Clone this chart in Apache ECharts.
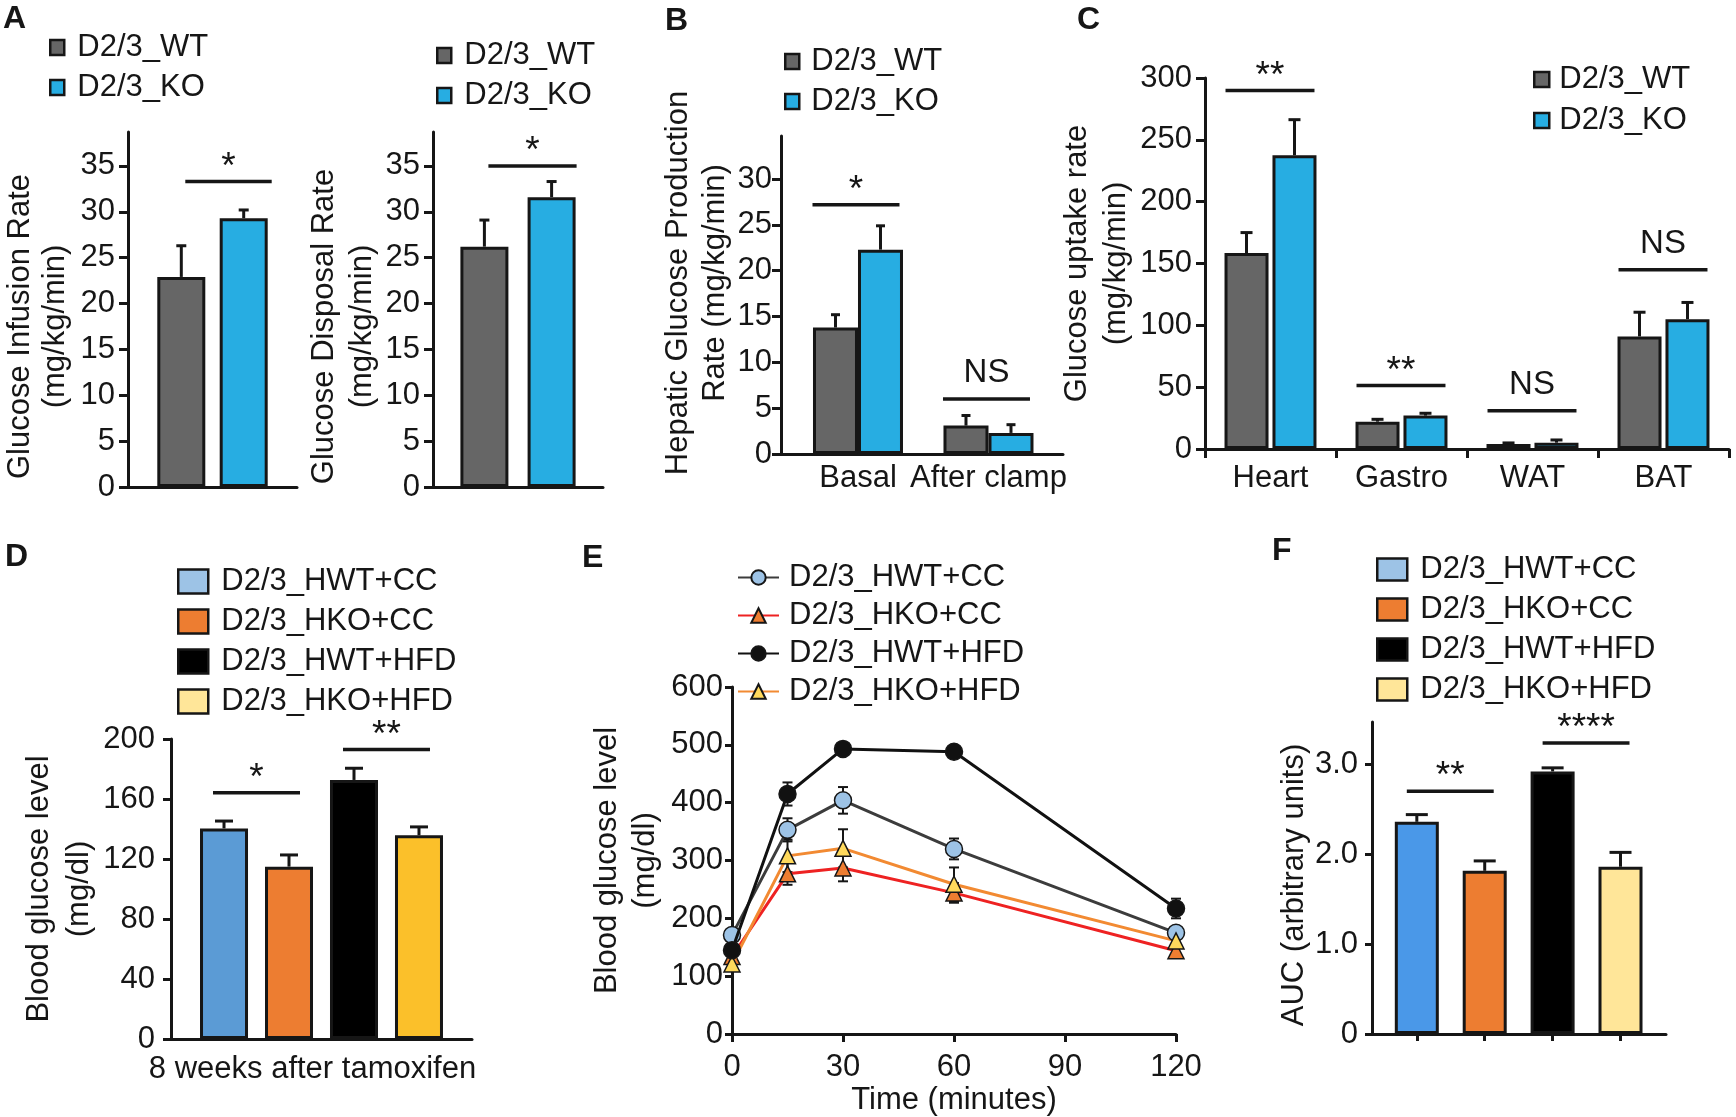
<!DOCTYPE html>
<html><head><meta charset="utf-8">
<script src="https://cdn.jsdelivr.net/npm/echarts@6/dist/echarts.min.js"></script>
<style>
html,body{margin:0;padding:0;background:#fff;width:1736px;height:1117px;overflow:hidden;}
.layer{position:absolute;left:0;top:0;width:1736px;height:1117px;}
</style></head><body>
<script>
// ================= DATA =================
// Panel A
const wtkoNames = ['D2/3_WT', 'D2/3_KO'];
const girMean = [22.9, 29.3];
const girErr = [3.4, 0.9];
const gdrMean = [26.2, 31.6];
const gdrErr = [2.9, 1.7];
const ticksA = [0, 5, 10, 15, 20, 25, 30, 35];
const sigA1 = [{ cat: 0, from: 0, to: 1, y: 33.3, text: '*' }];
const sigA2 = [{ cat: 0, from: 0, to: 1, y: 35.0, text: '*' }];

// Panel B
const hgpCats = ['Basal', 'After clamp'];
const hgpWT = [13.8, 3.1];
const hgpWTErr = [1.4, 1.1];
const hgpKO = [22.3, 2.3];
const hgpKOErr = [2.6, 0.9];
const ticksB = [0, 5, 10, 15, 20, 25, 30];
const sigB = [
  { cat: 0, from: 0, to: 1, y: 27.2, text: '*' },
  { cat: 1, from: 0, to: 1, y: 6.0, text: 'NS' }
];

// Panel C
const tissueCats = ['Heart', 'Gastro', 'WAT', 'BAT'];
const uptakeWT = [158.4, 22.1, 4.0, 91.0];
const uptakeWTErr = [16.6, 1.9, 0.9, 19.6];
const uptakeKO = [237.5, 27.0, 5.1, 105.0];
const uptakeKOErr = [28.8, 1.9, 2.2, 13.5];
const ticksC = [0, 50, 100, 150, 200, 250, 300];
const sigC = [
  { cat: 0, from: 0, to: 1, y: 289.8, text: '**' },
  { cat: 1, from: 0, to: 1, y: 51.3, text: '**' },
  { cat: 2, from: 0, to: 1, y: 31.0, text: 'NS' },
  { cat: 3, from: 0, to: 1, y: 145.0, text: 'NS' }
];

// Panel D
const dietNames = ['D2/3_HWT+CC', 'D2/3_HKO+CC', 'D2/3_HWT+HFD', 'D2/3_HKO+HFD'];
const fastCats = ['8 weeks after tamoxifen'];
const fastMean = [140.4, 114.9, 172.7, 135.8];
const fastErr = [4.9, 7.8, 7.8, 5.6];
const ticksD = [0, 40, 80, 120, 160, 200];
const sigD = [
  { cat: 0, from: 0, to: 1, y: 164.2, text: '*' },
  { cat: 0, from: 2, to: 3, y: 193.0, text: '**' }
];

// Panel E
const gttTimes = [0, 15, 30, 60, 120];
const gttHWTCC = [171, 353, 404, 320, 175];
const gttHWTCCErr = [6, 20, 23, 18, 6];
const gttHKOCC = [134, 277, 287, 244, 144];
const gttHKOCCErr = [6, 19, 23, 17, 6];
const gttHWTHFD = [145, 415, 493, 488, 217];
const gttHWTHFDErr = [8, 20, 5, 9, 17];
const gttHKOHFD = [121, 308, 321, 259, 161];
const gttHKOHFDErr = [6, 28, 33, 29, 6];
const ticksEX = [0, 30, 60, 90, 120];
const ticksEY = [0, 100, 200, 300, 400, 500, 600];

// Panel F
const aucMean = [2.36, 1.815, 2.92, 1.86];
const aucErr = [0.08, 0.11, 0.04, 0.16];
const ticksF = [0, 1, 2, 3];
const sigF = [
  { cat: 0, from: 0, to: 1, y: 2.70, text: '**' },
  { cat: 2, from: 2, to: 3, y: 3.237, text: '****' }
];

// ================= STYLE =================
const FONT = "'Liberation Sans', Arial, Helvetica, sans-serif";
const FS = 31;
const INK = '#161616';
const C_WT = '#666666';
const C_KO = '#27ade2';
const dietLegendColors = ['#9dc3e6', '#ed7d31', '#000000', '#ffe699'];
const dietBarColorsD = ['#5b9bd5', '#ed7d31', '#000000', '#fbc02a'];
const dietBarColorsF = ['#4a98e8', '#ed7d31', '#000000', '#ffe699'];

function mount(option) {
  const div = document.createElement('div');
  div.className = 'layer';
  document.body.appendChild(div);
  const chart = echarts.init(div, null, { renderer: 'canvas', width: 1736, height: 1117 });
  option.animation = false;
  option.textStyle = { fontFamily: FONT, color: INK };
  chart.setOption(option);
}

function letter(t, x, y) {
  return { type: 'text', x: x, y: y, style: { text: t, font: "bold 32px " + FONT, fill: INK, verticalAlign: 'middle', align: 'left' } };
}

function yAxisOf(c) {
  return {
    type: 'value', min: 0, max: c.max,
    axisLine: { show: true, onZero: false, lineStyle: { color: INK, width: 3 } },
    axisTick: { show: true, length: c.tickLen || 9, customValues: c.ticks, lineStyle: { color: INK, width: 3 } },
    axisLabel: { show: true, customValues: c.ticks, margin: c.margin, fontSize: FS, color: INK, fontFamily: FONT, formatter: c.fmt },
    splitLine: { show: false },
    name: c.name, nameLocation: 'middle', nameGap: c.nameGap,
    nameTextStyle: { fontSize: FS, color: INK, fontFamily: FONT, lineHeight: c.lh || 36, padding: c.pad || 0 }
  };
}

function legendOf(L, names, colors) {
  const o = {
    orient: 'vertical', left: L.left, top: L.top, padding: 0, itemGap: L.gap,
    itemWidth: L.w, itemHeight: L.h, selectedMode: false,
    data: names.map((nm, k) => colors ? { name: nm, itemStyle: { color: colors[k], borderColor: INK, borderWidth: L.bw } } : nm),
    textStyle: { fontSize: FS, color: INK, fontFamily: FONT, lineHeight: 30, padding: [0, 0, 0, L.pad] }
  };
  if (L.icon) o.icon = L.icon;
  if (L.bw != null) o.itemStyle = { borderColor: INK, borderWidth: L.bw };
  return o;
}

function errBars(data, xShift, capW, both, lw) {
  return {
    type: 'custom', silent: true, z: 3, data: data,
    renderItem: function (p, api) {
      const xv = api.value(0), v = api.value(1), e = api.value(2);
      const c = api.coord([xv, v]);
      const t = api.coord([xv, v + e]);
      const b = both ? api.coord([xv, v - e]) : c;
      const x = c[0] + xShift;
      const st = { stroke: INK, lineWidth: lw };
      const kids = [
        { type: 'line', shape: { x1: x, y1: b[1], x2: x, y2: t[1] }, style: st },
        { type: 'line', shape: { x1: x - capW / 2, y1: t[1], x2: x + capW / 2, y2: t[1] }, style: st }
      ];
      if (both) kids.push({ type: 'line', shape: { x1: x - capW / 2, y1: b[1], x2: x + capW / 2, y2: b[1] }, style: st });
      return { type: 'group', children: kids };
    }
  };
}

function sigSeries(items, xOf, dx) {
  return {
    type: 'custom', silent: true, z: 4,
    data: items.map(s => [s.cat, s.y]),
    renderItem: function (p, api) {
      const s = items[p.dataIndex];
      const y = api.coord([s.cat, s.y])[1];
      const x1 = xOf(api, s, s.from) + dx[0];
      const x2 = xOf(api, s, s.to) + dx[1];
      const star = s.text.indexOf('*') >= 0;
      return {
        type: 'group', children: [
          { type: 'line', shape: { x1: x1, y1: y, x2: x2, y2: y }, style: { stroke: INK, lineWidth: 3.5 } },
          { type: 'text', x: (x1 + x2) / 2, y: y - (star ? 14 : 26),
            style: { text: s.text, font: (star ? 37 : 33) + "px " + FONT, fill: INK, align: 'center', verticalAlign: 'middle' } }
        ]
      };
    }
  };
}

function barPanel(c) {
  const n = c.series.length;
  const step = c.barWidth * (1 + c.gap);
  const off = k => (k - (n - 1) / 2) * step;
  const vx = !!c.valueX;
  const series = c.series.map(s => ({
    type: 'bar', name: s.name, data: vx ? s.values.map((v, i) => [i, v]) : s.values,
    barWidth: c.barWidth, barGap: (c.gap * 100) + '%',
    itemStyle: { color: s.color, borderColor: INK, borderWidth: 3 }, silent: true, z: 2
  }));
  c.series.forEach((s, k) => series.push(errBars(s.values.map((v, i) => [i, v, s.errs[i]]), off(k), c.capW, false, 3)));
  series.push(sigSeries(c.sig, (api, s, k) => api.coord([s.cat, s.y])[0] + off(k), c.sigDx));
  const axisLine = { show: true, onZero: false, lineStyle: { color: INK, width: 3 } };
  const labelStyle = { interval: 0, margin: c.xMargin || 8, fontSize: FS, color: INK, fontFamily: FONT, padding: c.xPad || 0 };
  const xAxis = vx ? {
    type: 'value', min: c.valueX[0], max: c.valueX[1], axisLine: axisLine,
    axisTick: { show: false },
    axisLabel: Object.assign({ show: true, customValues: c.cats.map((t, i) => i), formatter: v => c.cats[Math.round(v)] }, labelStyle),
    splitLine: { show: false }
  } : {
    type: 'category', data: c.cats, axisLine: axisLine,
    axisTick: { show: !!c.xTick, length: 9, lineStyle: { color: INK, width: 3 } },
    axisLabel: Object.assign({ show: !!c.xLabel }, labelStyle),
    splitLine: { show: false }
  };
  mount({
    graphic: c.letter[0] ? [letter(c.letter[0], c.letter[1], c.letter[2])] : [],
    legend: legendOf(c.legend, c.series.map(s => s.name), c.legendColors),
    grid: Object.assign({ containLabel: false, outerBoundsMode: 'none' }, c.grid),
    xAxis: xAxis,
    yAxis: yAxisOf(c.y),
    series: series
  });
}

// ---------- A (left) ----------
barPanel({
  letter: ['A', 3, 19],
  grid: { left: 128, top: 132, width: 169, height: 355 },
  cats: [''],
  series: [
    { name: wtkoNames[0], values: [girMean[0]], errs: [girErr[0]], color: C_WT },
    { name: wtkoNames[1], values: [girMean[1]], errs: [girErr[1]], color: C_KO }
  ],
  barWidth: 48, gap: 0.30, capW: 10,
  sig: sigA1, sigDx: [4, 28],
  legend: { left: 49, top: 32, gap: 9, w: 14, h: 15, pad: 8, bw: 2.5, icon: 'rect' },
  y: { max: 38.7, ticks: ticksA, margin: 13, name: 'Glucose Infusion Rate\n(mg/kg/min)', nameGap: 55, lh: 35, pad: [0, 34, 0, 0] }
});

// ---------- A (right) ----------
barPanel({
  letter: ['', 0, 0],
  grid: { left: 433, top: 132, width: 170, height: 355 },
  cats: [''],
  series: [
    { name: wtkoNames[0], values: [gdrMean[0]], errs: [gdrErr[0]], color: C_WT },
    { name: wtkoNames[1], values: [gdrMean[1]], errs: [gdrErr[1]], color: C_KO }
  ],
  barWidth: 48, gap: 0.40, capW: 10,
  sig: sigA2, sigDx: [4, 25],
  legend: { left: 436, top: 40, gap: 9, w: 14, h: 15, pad: 8, bw: 2.5, icon: 'rect' },
  y: { max: 38.7, ticks: ticksA, margin: 13, name: 'Glucose Disposal Rate\n(mg/kg/min)', nameGap: 49, lh: 38, pad: [0, 34, 0, 0] }
});

// ---------- B ----------
barPanel({
  letter: ['B', 665, 21],
  grid: { left: 781, top: 136, width: 282, height: 318 },
  cats: hgpCats, xLabel: true, xMargin: 9, valueX: [-0.59, 1.571],
  series: [
    { name: wtkoNames[0], values: hgpWT, errs: hgpWTErr, color: C_WT },
    { name: wtkoNames[1], values: hgpKO, errs: hgpKOErr, color: C_KO }
  ],
  barWidth: 45, gap: 0, capW: 9,
  sig: sigB, sigDx: [-23, 19],
  legend: { left: 784, top: 46, gap: 9, w: 14, h: 15, pad: 7, bw: 2.5, icon: 'rect' },
  y: { max: 34.7, ticks: ticksB, margin: 9, name: 'Hepatic Glucose Production\nRate (mg/kg/min)', nameGap: 47, lh: 37, pad: [0, 0, 0, 24] }
});

// ---------- C ----------
barPanel({
  letter: ['C', 1077, 20],
  grid: { left: 1205, top: 78, width: 524, height: 371 },
  cats: tissueCats, xLabel: true, xTick: true, xMargin: 14,
  series: [
    { name: wtkoNames[0], values: uptakeWT, errs: uptakeWTErr, color: C_WT },
    { name: wtkoNames[1], values: uptakeKO, errs: uptakeKOErr, color: C_KO }
  ],
  barWidth: 44, gap: 0.09, capW: 12,
  sig: sigC, sigDx: [-21, 20],
  legend: { left: 1533, top: 64, gap: 10, w: 15, h: 15, pad: 5, bw: 2.5, icon: 'rect' },
  y: { max: 300, ticks: ticksC, margin: 13, name: 'Glucose uptake rate\n(mg/kg/min)', nameGap: 52, lh: 39 }
});

// ---------- D ----------
barPanel({
  letter: ['D', 5, 557],
  grid: { left: 171, top: 739, width: 301, height: 300 },
  cats: fastCats, xLabel: true, xMargin: 15, xPad: [0, 18, 0, 0],
  series: dietNames.map((nm, k) => ({ name: nm, values: [fastMean[k]], errs: [fastErr[k]], color: dietBarColorsD[k] })),
  legendColors: dietLegendColors,
  barWidth: 48, gap: 0.354, capW: 18,
  sig: sigD, sigDx: [-11, 11],
  legend: { left: 177, top: 566, gap: 9, w: 30, h: 24, pad: 8, bw: 2.5, icon: 'rect' },
  y: { max: 200, ticks: ticksD, margin: 16, tickLen: 8, name: 'Blood glucose level\n(mg/dl)', nameGap: 65, lh: 40 }
});

// ---------- E ----------
(function () {
  const defs = [
    { name: dietNames[0], v: gttHWTCC, e: gttHWTCCErr, line: '#3c3c3c', fill: '#9dc3e6', sym: 'circle', z: 5 },
    { name: dietNames[1], v: gttHKOCC, e: gttHKOCCErr, line: '#ee2222', fill: '#ee7d31', sym: 'triangle', z: 4 },
    { name: dietNames[2], v: gttHWTHFD, e: gttHWTHFDErr, line: '#111111', fill: '#111111', sym: 'circle', z: 6 },
    { name: dietNames[3], v: gttHKOHFD, e: gttHKOHFDErr, line: '#f28a32', fill: '#ffd95c', sym: 'triangle', z: 5 }
  ];
  const series = [];
  defs.forEach(d => {
    series.push(errBars(gttTimes.map((t, i) => [t, d.v[i], d.e[i]]), 0, 10, true, 2));
  });
  defs.forEach(d => {
    series.push({
      type: 'line', name: d.name, data: gttTimes.map((t, i) => [t, d.v[i]]),
      symbol: d.sym, symbolSize: d.sym === 'circle' ? 17 : 16, showSymbol: true, silent: true, z: d.z,
      lineStyle: { color: d.line, width: 3 },
      itemStyle: { color: d.fill, borderColor: INK, borderWidth: 1.5 }
    });
  });
  mount({
    graphic: [letter('E', 582, 558)],
    legend: legendOf({ left: 737, top: 562, gap: 7, w: 41, h: 18, pad: 5 }, dietNames, null),
    grid: { left: 732, top: 687, width: 444, height: 347, containLabel: false, outerBoundsMode: 'none' },
    xAxis: {
      type: 'value', min: 0, max: 120,
      axisLine: { show: true, onZero: false, lineStyle: { color: INK, width: 3 } },
      axisTick: { show: true, length: 8, customValues: ticksEX, lineStyle: { color: INK, width: 3 } },
      axisLabel: { show: true, customValues: ticksEX, margin: 18, fontSize: FS, color: INK, fontFamily: FONT },
      splitLine: { show: false },
      name: 'Time (minutes)', nameLocation: 'middle', nameGap: 51,
      nameTextStyle: { fontSize: FS, color: INK, fontFamily: FONT }
    },
    yAxis: yAxisOf({ max: 600, ticks: ticksEY, margin: 9, tickLen: 7, name: 'Blood glucose level\n(mg/dl)', nameGap: 68, lh: 38 }),
    series: series
  });
})();

// ---------- F ----------
(function () {
  const series = aucMean.map((v, k) => ({
    type: 'bar', name: dietNames[k], data: [[k, v]], barWidth: 44, barGap: '-100%',
    itemStyle: { color: dietBarColorsF[k], borderColor: INK, borderWidth: 3 }, silent: true, z: 2
  }));
  series.push(errBars(aucMean.map((v, k) => [k, v, aucErr[k]]), 0, 22, false, 3));
  series.push(sigSeries(sigF, (api, s, k) => api.coord([k, s.y])[0], [-10, 9]));
  mount({
    graphic: [letter('F', 1272, 551)],
    legend: legendOf({ left: 1376, top: 554, gap: 9, w: 30, h: 22, pad: 8, bw: 2.5, icon: 'rect' }, dietNames, dietLegendColors),
    grid: { left: 1372, top: 722, width: 294, height: 312, containLabel: false, outerBoundsMode: 'none' },
    xAxis: {
      type: 'value', min: -0.66, max: 3.67,
      axisLine: { show: true, onZero: false, lineStyle: { color: INK, width: 3 } },
      axisTick: { show: true, length: 7, customValues: aucMean.map((v, k) => k), lineStyle: { color: INK, width: 3 } },
      axisLabel: { show: false },
      splitLine: { show: false }
    },
    yAxis: yAxisOf({ max: 3.47, ticks: ticksF, margin: 14, tickLen: 7, name: 'AUC (arbitrary units)', nameGap: 58, lh: 34, pad: [0, 14, 0, 0],
      fmt: v => (v === 0 ? '0' : v.toFixed(1)) }),
    series: series
  });
})();
</script>
</body></html>
